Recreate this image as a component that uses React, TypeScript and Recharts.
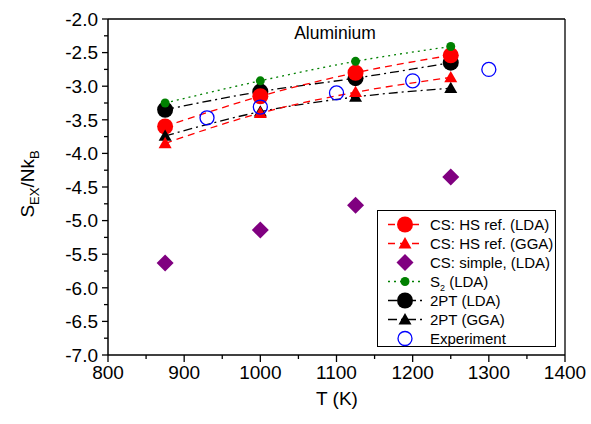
import { ComposedChart, Line, XAxis, YAxis, ReferenceLine } from 'recharts';

// temperatures (K) of the calculated points
const temps = [875, 1000, 1125, 1250];
const hsLda = [-3.6, -3.15, -2.8, -2.54];
const hsGga = [-3.85, -3.4, -3.09, -2.87];
const simpleLda = [-5.63, -5.14, -4.77, -4.35];
const s2Lda = [-3.25, -2.92, -2.63, -2.41];
const tptLda = [-3.35, -3.08, -2.88, -2.65];
const tptGga = [-3.74, -3.38, -3.16, -3.03];

// experiment
const expTemps = [930, 1000, 1100, 1200, 1300];
const expValues = [-3.47, -3.31, -3.1, -2.92, -2.75];

const xTicks = [800, 850, 900, 950, 1000, 1050, 1100, 1150, 1200, 1250, 1300, 1350, 1400];
const yTicks = [-7, -6.75, -6.5, -6.25, -6, -5.75, -5.5, -5.25, -5, -4.75, -4.5, -4.25, -4, -3.75, -3.5, -3.25, -3, -2.75, -2.5, -2.25, -2];

const FONT = '"Liberation Sans", Arial, sans-serif';

type Shape = 'circle' | 'ring' | 'triangle' | 'diamond';
type Series = {
  key: string;
  name: string;
  x: number[];
  y: number[];
  color: string;
  dash: string | null;
  shape: Shape;
  size: number;
};

const series: Series[] = [
  { key: 'hsLda', name: 'CS: HS ref. (LDA)', x: temps, y: hsLda, color: '#ff0000', dash: '7 5', shape: 'circle', size: 8 },
  { key: 'hsGga', name: 'CS: HS ref. (GGA)', x: temps, y: hsGga, color: '#ff0000', dash: '7 5', shape: 'triangle', size: 6.5 },
  { key: 'simple', name: 'CS: simple, (LDA)', x: temps, y: simpleLda, color: '#800080', dash: null, shape: 'diamond', size: 8.5 },
  { key: 's2', name: 'S2 (LDA)', x: temps, y: s2Lda, color: '#008000', dash: '2 4', shape: 'circle', size: 4.5 },
  { key: 'tptLda', name: '2PT (LDA)', x: temps, y: tptLda, color: '#000000', dash: '9 4 2 4', shape: 'circle', size: 8 },
  { key: 'tptGga', name: '2PT (GGA)', x: temps, y: tptGga, color: '#000000', dash: '9 4 2 4', shape: 'triangle', size: 6.5 },
  { key: 'exp', name: 'Experiment', x: expTemps, y: expValues, color: '#0000ff', dash: null, shape: 'ring', size: 7 }
];

// drawing order (later on top)
const drawOrder = ['tptLda', 'hsLda', 'tptGga', 'hsGga', 's2', 'simple', 'exp'];

const Marker = ({ cx, cy, shape, size, color }: { cx: number; cy: number; shape: Shape; size: number; color: string }) => {
  if (shape === 'circle') return <circle cx={cx} cy={cy} r={size} fill={color} />;
  if (shape === 'ring') return <circle cx={cx} cy={cy} r={size} fill="none" stroke={color} strokeWidth={1.3} />;
  if (shape === 'triangle') {
    const pts = `${cx},${cy - size} ${cx - size},${cy + size * 0.75} ${cx + size},${cy + size * 0.75}`;
    return <polygon points={pts} fill={color} />;
  }
  const pts = `${cx},${cy - size} ${cx + size},${cy} ${cx},${cy + size} ${cx - size},${cy}`;
  return <polygon points={pts} fill={color} />;
};

const XTick = (props: any) => {
  const { x, y, payload } = props;
  const v = Number(payload.value);
  const major = v % 100 === 0;
  return (
    <g>
      <line x1={x} x2={x} y1={y} y2={y + (major ? 7 : 4)} stroke="#000" strokeWidth={1.3} />
      {major && (
        <text x={x} y={y + 24} textAnchor="middle" fontSize={19} fill="#000" fontFamily={FONT}>
          {v}
        </text>
      )}
    </g>
  );
};

const YTick = (props: any) => {
  const { x, y, payload } = props;
  const v = Number(payload.value);
  const major = Math.abs(v * 2 - Math.round(v * 2)) < 1e-6;
  return (
    <g>
      <line x1={x - (major ? 6 : 4)} x2={x} y1={y} y2={y} stroke="#000" strokeWidth={1.3} />
      {major && (
        <text x={x - 10} y={y + 6.8} textAnchor="end" fontSize={19} fill="#000" fontFamily={FONT}>
          {v.toFixed(1)}
        </text>
      )}
    </g>
  );
};

const LegendBox = () => (
  <div
    style={{
      position: 'absolute',
      left: 377,
      top: 210,
      width: 177,
      height: 131,
      paddingTop: 4,
      border: '1px solid #000',
      background: '#fff',
      fontFamily: FONT
    }}
  >
    {series.map((s) => (
      <div key={s.key} style={{ display: 'flex', alignItems: 'center', height: 19 }}>
        <svg width={52} height={19} style={{ display: 'block', flex: 'none' }}>
          {s.dash && <line x1={10} x2={44} y1={9.5} y2={9.5} stroke={s.color} strokeWidth={1.3} strokeDasharray={s.dash} />}
          <Marker cx={27} cy={9.5} shape={s.shape} size={s.size} color={s.color} />
        </svg>
        <span style={{ fontSize: 15, color: '#000', whiteSpace: 'nowrap', lineHeight: '19px' }}>
          {s.key === 's2' ? (
            <>
              S<sub style={{ fontSize: 9, lineHeight: 0 }}>2</sub> (LDA)
            </>
          ) : (
            s.name
          )}
        </span>
      </div>
    ))}
  </div>
);

export default function App() {
  const ordered = drawOrder.map((k) => series.find((s) => s.key === k)!);
  return (
    <div style={{ position: 'absolute', left: 0, top: 0, width: 591, height: 424, background: '#fff', fontFamily: FONT }}>
      <ComposedChart width={591} height={424} margin={{ top: 19, right: 26, bottom: 0, left: 0 }}>
        <XAxis
          dataKey="t"
          type="number"
          domain={[800, 1400]}
          ticks={xTicks}
          interval={0}
          allowDataOverflow
          height={69}
          tickSize={0}
          tickMargin={0}
          tickLine={false}
          axisLine={{ stroke: '#000', strokeWidth: 1.5 }}
          tick={<XTick />}
        />
        <YAxis
          type="number"
          domain={[-7, -2]}
          ticks={yTicks}
          interval={0}
          allowDataOverflow
          width={108}
          tickSize={0}
          tickMargin={0}
          tickLine={false}
          axisLine={{ stroke: '#000', strokeWidth: 1.5 }}
          tick={<YTick />}
        />
        <ReferenceLine y={-2} stroke="#000" strokeWidth={1.3} />
        <ReferenceLine x={1400} stroke="#000" strokeWidth={1.3} />
        {ordered.map((s) => (
          <Line
            key={s.key}
            data={s.x.map((t, i) => ({ t, v: s.y[i] }))}
            dataKey="v"
            name={s.name}
            type="monotone"
            stroke={s.dash ? s.color : 'none'}
            strokeWidth={1.3}
            strokeDasharray={s.dash ?? undefined}
            isAnimationActive={false}
            activeDot={false}
            dot={(p: any) => <Marker key={`${s.key}-${p.index}`} cx={p.cx} cy={p.cy} shape={s.shape} size={s.size} color={s.color} />}
          />
        ))}
        <text x={335} y={39} textAnchor="middle" fontSize={17.5} fill="#000" fontFamily={FONT}>
          Aluminium
        </text>
        <text x={337} y={405} textAnchor="middle" fontSize={19} fill="#000" fontFamily={FONT}>
          T (K)
        </text>
        <text transform="rotate(-90, 34, 184)" x={34} y={184} textAnchor="middle" fontSize={19} fill="#000" fontFamily={FONT}>
          <tspan>S</tspan>
          <tspan fontSize={13} dy={5}>EX</tspan>
          <tspan dy={-5}>/Nk</tspan>
          <tspan fontSize={13} dy={5}>B</tspan>
        </text>
      </ComposedChart>
      <LegendBox />
    </div>
  );
}
